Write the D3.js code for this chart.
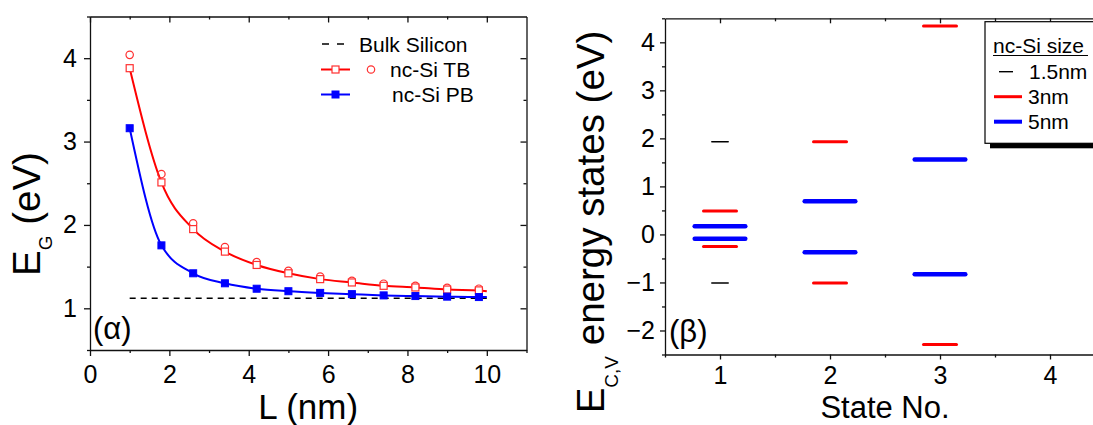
<!DOCTYPE html>
<html>
<head>
<meta charset="utf-8">
<script src="https://cdn.jsdelivr.net/npm/d3@7/dist/d3.min.js"></script>
<style>
  html, body { margin: 0; padding: 0; background: #fff; }
  svg { display: block; font-family: "Liberation Sans", Arial, sans-serif; }
</style>
</head>
<body>
<svg id="chart" width="1093" height="425"></svg>
<script>
// ---------------- DATA ----------------
// Panel (α): band gap vs nanocrystal size
const sizeL = [1.0, 1.8, 2.6, 3.4, 4.2, 5.0, 5.8, 6.6, 7.4, 8.2, 9.0, 9.8];
const tbSquares = [3.88, 2.51, 1.95, 1.68, 1.52, 1.42, 1.35, 1.31, 1.27, 1.25, 1.225, 1.215];
const tbCircles = [4.04, 2.61, 2.02, 1.735, 1.555, 1.45, 1.38, 1.33, 1.295, 1.27, 1.245, 1.235];
const pbSquares = [3.16, 1.755, 1.42, 1.30, 1.235, 1.205, 1.185, 1.17, 1.155, 1.147, 1.14, 1.135];
const fitEndL = 10;
const tbFitEnd = 1.205;
const pbFitEnd = 1.135;
const bulkGap = 1.12;
const bulkRange = [1, 10];
const xTicksA = [0, 2, 4, 6, 8, 10];
const yTicksA = [1, 2, 3, 4];

// Panel (β): energy states
const states15 = [1, 1];
const levels15 = [1.93, -1.01];
const states3 = [1, 1, 2, 2, 3, 3];
const levels3 = [0.49, -0.25, 1.93, -1.01, 4.34, -2.29];
const states5 = [1, 1, 2, 2, 3, 3];
const levels5 = [0.17, -0.09, 0.69, -0.37, 1.56, -0.83];
const sizeNames = ["1.5nm", "3nm", "5nm"];
const xTicksB = [1, 2, 3, 4];
const yTicksB = [-2, -1, 0, 1, 2, 3, 4];

// ---------------- STYLE ----------------
const RED = "#ff0000", BLUE = "#0000ff", BLACK = "#000";
const AX = "#111";
const TICKFS = 25, LEGFS = 21, TITLEFS = 38.5;
const svg = d3.select("#chart");
svg.append("rect").attr("width", 1093).attr("height", 425).attr("fill", "#fff");

function styleAxis(g, fs) {
  g.selectAll("path.domain").attr("stroke", AX).attr("stroke-width", 1.3);
  g.selectAll(".tick line").attr("stroke", AX).attr("stroke-width", 1.3);
  g.selectAll(".tick text").attr("font-size", fs).attr("fill", "#000")
    .attr("font-family", "Liberation Sans, Arial, sans-serif");
}

// ================= PANEL α =================
const xA = d3.scaleLinear().domain([0, 11]).range([90, 526.5]);
const yA = d3.scaleLinear().domain([0.5, 4.5]).range([350, 16.5]);

const gA = svg.append("g");
// minor ticks
gA.append("g").attr("transform", `translate(0,${yA(0.5)})`)
  .call(d3.axisBottom(xA).tickValues([1, 3, 5, 7, 9, 11]).tickSize(3).tickFormat("").tickSizeOuter(0))
  .call(g => { g.select(".domain").remove(); styleAxis(g, TICKFS); });
gA.append("g").attr("transform", `translate(0,${yA(4.5)})`)
  .call(d3.axisBottom(xA).tickValues([1, 3, 5, 7, 9]).tickSize(3).tickFormat("").tickSizeOuter(0))
  .call(g => { g.select(".domain").remove(); styleAxis(g, TICKFS); });
gA.append("g").attr("transform", `translate(${xA(0)},0)`)
  .call(d3.axisLeft(yA).tickValues([0.5, 1.5, 2.5, 3.5, 4.5]).tickSize(3).tickFormat("").tickSizeOuter(0))
  .call(g => { g.select(".domain").remove(); styleAxis(g, TICKFS); });
gA.append("g").attr("transform", `translate(${xA(11)},0)`)
  .call(d3.axisLeft(yA).tickValues([1.5, 2.5, 3.5]).tickSize(3).tickFormat("").tickSizeOuter(0))
  .call(g => { g.select(".domain").remove(); styleAxis(g, TICKFS); });
// major axes
gA.append("g").attr("transform", `translate(0,${yA(0.5)})`)
  .call(d3.axisBottom(xA).tickValues(xTicksA).tickSize(6).tickPadding(9).tickSizeOuter(0).tickFormat(d3.format("d")))
  .call(g => styleAxis(g, TICKFS));
gA.append("g").attr("transform", `translate(${xA(0)},0)`)
  .call(d3.axisLeft(yA).tickValues(yTicksA).tickSize(6).tickPadding(7).tickSizeOuter(0).tickFormat(d3.format("d")))
  .call(g => styleAxis(g, TICKFS));
gA.append("g").attr("transform", `translate(0,${yA(4.5)})`)
  .call(d3.axisBottom(xA).tickValues(xTicksA).tickSize(6).tickSizeOuter(0).tickFormat(""))
  .call(g => styleAxis(g, TICKFS));
gA.append("g").attr("transform", `translate(${xA(11)},0)`)
  .call(d3.axisLeft(yA).tickValues(yTicksA).tickSize(6).tickSizeOuter(0).tickFormat(""))
  .call(g => styleAxis(g, TICKFS));

// bulk line
gA.append("line")
  .attr("x1", xA(bulkRange[0])).attr("x2", xA(bulkRange[1]))
  .attr("y1", yA(bulkGap)).attr("y2", yA(bulkGap))
  .attr("stroke", BLACK).attr("stroke-width", 1.5).attr("stroke-dasharray", "6,5");

// fit curves
const lineA = d3.line().x(d => xA(d[0])).y(d => yA(d[1])).curve(d3.curveMonotoneX);
const tbFit = sizeL.map((l, i) => [l, tbSquares[i]]).concat([[fitEndL, tbFitEnd]]);
const pbFit = sizeL.map((l, i) => [l, pbSquares[i]]).concat([[fitEndL, pbFitEnd]]);
gA.append("path").attr("d", lineA(tbFit)).attr("fill", "none").attr("stroke", RED).attr("stroke-width", 2);
gA.append("path").attr("d", lineA(pbFit)).attr("fill", "none").attr("stroke", BLUE).attr("stroke-width", 2);

// markers
const ms = 7;
gA.selectAll(".tbc").data(sizeL).enter().append("circle")
  .attr("cx", d => xA(d)).attr("cy", (d, i) => yA(tbCircles[i])).attr("r", 3.7)
  .attr("fill", "none").attr("stroke", "#ff3030").attr("stroke-width", 1.2);
gA.selectAll(".tbs").data(sizeL).enter().append("rect")
  .attr("x", d => xA(d) - ms / 2).attr("y", (d, i) => yA(tbSquares[i]) - ms / 2)
  .attr("width", ms).attr("height", ms)
  .attr("fill", "#fff").attr("stroke", "#ff3030").attr("stroke-width", 1.2);
gA.selectAll(".pbs").data(sizeL).enter().append("rect")
  .attr("x", d => xA(d) - ms / 2).attr("y", (d, i) => yA(pbSquares[i]) - ms / 2)
  .attr("width", ms).attr("height", ms)
  .attr("fill", BLUE).attr("stroke", BLUE).attr("stroke-width", 1);

// legend α
const lgA = gA.append("g");
lgA.append("line").attr("x1", 322).attr("x2", 345).attr("y1", 44).attr("y2", 44)
  .attr("stroke", BLACK).attr("stroke-width", 1.5).attr("stroke-dasharray", "7,8");
lgA.append("text").attr("x", 359).attr("y", 51.5).attr("font-size", LEGFS).text("Bulk Silicon");
lgA.append("line").attr("x1", 321).attr("x2", 350).attr("y1", 69.5).attr("y2", 69.5)
  .attr("stroke", RED).attr("stroke-width", 2);
lgA.append("rect").attr("x", 335.5 - ms / 2).attr("y", 69.5 - ms / 2).attr("width", ms).attr("height", ms)
  .attr("fill", "#fff").attr("stroke", "#ff3030").attr("stroke-width", 1.2);
lgA.append("circle").attr("cx", 371).attr("cy", 69.5).attr("r", 3.7)
  .attr("fill", "none").attr("stroke", "#ff3030").attr("stroke-width", 1.2);
lgA.append("text").attr("x", 390).attr("y", 77).attr("font-size", LEGFS).text("nc-Si TB");
lgA.append("line").attr("x1", 321).attr("x2", 350).attr("y1", 94.5).attr("y2", 94.5)
  .attr("stroke", BLUE).attr("stroke-width", 2);
lgA.append("rect").attr("x", 335.5 - ms / 2).attr("y", 94.5 - ms / 2).attr("width", ms).attr("height", ms)
  .attr("fill", BLUE).attr("stroke", BLUE).attr("stroke-width", 1);
lgA.append("text").attr("x", 392).attr("y", 102).attr("font-size", LEGFS).text("nc-Si PB");

// panel label
gA.append("text").attr("x", 93).attr("y", 339).attr("font-size", 31).text("(α)");

// axis titles α
svg.append("text").attr("x", xA(5.5)).attr("y", 419).attr("text-anchor", "middle")
  .attr("font-size", 35).text("L (nm)");
const tA = svg.append("text").attr("transform", "translate(40,214) rotate(-90)")
  .attr("text-anchor", "middle").attr("font-size", TITLEFS);
tA.append("tspan").text("E");
tA.append("tspan").attr("font-size", 19).attr("dy", 12).text("G");
tA.append("tspan").attr("dy", -12).text(" (eV)");

// ================= PANEL β =================
const xB = d3.scaleLinear().domain([0.5, 4.5]).range([665, 1105]);
const yB = d3.scaleLinear().domain([-2.5, 4.5]).range([354.5, 18.3]);
const gB = svg.append("g");

gB.append("g").attr("transform", `translate(0,${yB(-2.5)})`)
  .call(d3.axisBottom(xB).tickValues([0.5, 1.5, 2.5, 3.5]).tickSize(3).tickFormat("").tickSizeOuter(0))
  .call(g => { g.select(".domain").remove(); styleAxis(g, TICKFS); });
gB.append("g").attr("transform", `translate(${xB(0.5)},0)`)
  .call(d3.axisLeft(yB).tickValues([-2.5, -1.5, -0.5, 0.5, 1.5, 2.5, 3.5, 4.5]).tickSize(3).tickFormat("").tickSizeOuter(0))
  .call(g => { g.select(".domain").remove(); styleAxis(g, TICKFS); });
gB.append("g").attr("transform", `translate(0,${yB(4.5)})`)
  .call(d3.axisBottom(xB).tickValues([1.5, 2.5, 3.5]).tickSize(3).tickFormat("").tickSizeOuter(0))
  .call(g => { g.select(".domain").remove(); styleAxis(g, TICKFS); });

gB.append("g").attr("transform", `translate(0,${yB(-2.5)})`)
  .call(d3.axisBottom(xB).tickValues(xTicksB).tickSize(5).tickPadding(7).tickSizeOuter(0).tickFormat(d3.format("d")))
  .call(g => styleAxis(g, TICKFS));
gB.append("g").attr("transform", `translate(${xB(0.5)},0)`)
  .call(d3.axisLeft(yB).tickValues(yTicksB).tickSize(5).tickPadding(5).tickSizeOuter(0).tickFormat(d3.format("d")))
  .call(g => styleAxis(g, TICKFS));
gB.append("g").attr("transform", `translate(0,${yB(4.5)})`)
  .call(d3.axisBottom(xB).tickValues(xTicksB).tickSize(5).tickSizeOuter(0).tickFormat(""))
  .call(g => styleAxis(g, TICKFS));

// energy levels
const levelStyle = [
  { states: states15, levels: levels15, color: BLACK, width: 1.4, hw: 0.075 },
  { states: states3, levels: levels3, color: RED, width: 3, hw: 0.15 },
  { states: states5, levels: levels5, color: BLUE, width: 4.5, hw: 0.23 }
];
levelStyle.forEach(s => {
  gB.selectAll(null).data(s.levels).enter().append("line")
    .attr("x1", (d, i) => xB(s.states[i] - s.hw)).attr("x2", (d, i) => xB(s.states[i] + s.hw))
    .attr("y1", d => yB(d)).attr("y2", d => yB(d))
    .attr("stroke", s.color).attr("stroke-width", s.width).attr("stroke-linecap", "round");
});

gB.append("text").attr("x", 669).attr("y", 342).attr("font-size", 31).text("(β)");

// legend β
const lgB = gB.append("g");
lgB.append("rect").attr("x", 990).attr("y", 26.7).attr("width", 130).attr("height", 121.6).attr("fill", "#000");
lgB.append("rect").attr("x", 985).attr("y", 21.7).attr("width", 130).attr("height", 121.6)
  .attr("fill", "#fff").attr("stroke", "#000").attr("stroke-width", 1.2);
lgB.append("text").attr("x", 993).attr("y", 52.5).attr("font-size", LEGFS).text("nc-Si size");
lgB.append("line").attr("x1", 993).attr("x2", 1088).attr("y1", 55.5).attr("y2", 55.5)
  .attr("stroke", "#000").attr("stroke-width", 1.2);
const lgRows = [
  { y: 71.7, x1: 999, x2: 1013, tx: 1029, c: BLACK, w: 1.4 },
  { y: 96.7, x1: 994, x2: 1022, tx: 1028, c: RED, w: 3 },
  { y: 121.7, x1: 994, x2: 1022, tx: 1028, c: BLUE, w: 4 }
];
lgRows.forEach((r, i) => {
  lgB.append("line").attr("x1", r.x1).attr("x2", r.x2).attr("y1", r.y).attr("y2", r.y)
    .attr("stroke", r.c).attr("stroke-width", r.w);
  lgB.append("text").attr("x", r.tx).attr("y", r.y + 7.5).attr("font-size", LEGFS).text(sizeNames[i]);
});

// axis titles β
svg.append("text").attr("x", xB(2.5)).attr("y", 418).attr("text-anchor", "middle")
  .attr("font-size", 31).text("State No.");
const tB = svg.append("text").attr("transform", "translate(604,222) rotate(-90)")
  .attr("text-anchor", "middle").attr("font-size", TITLEFS);
tB.append("tspan").text("E");
tB.append("tspan").attr("font-size", 19).attr("dy", 14).text("C,V");
tB.append("tspan").attr("dy", -14).text(" energy states (eV)");
</script>
</body>
</html>
